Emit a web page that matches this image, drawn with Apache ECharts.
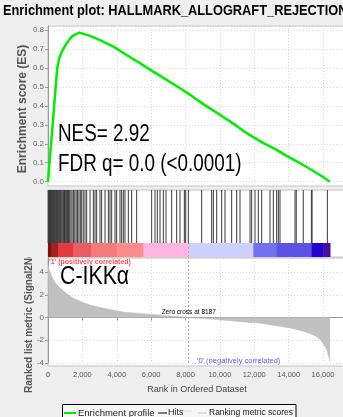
<!DOCTYPE html>
<html><head><meta charset="utf-8">
<script src="https://cdn.jsdelivr.net/npm/echarts@6/dist/echarts.min.js"></script>
<style>html,body{margin:0;padding:0;background:#efefef}#c{width:343px;height:417px}</style>
</head><body><div id="c"></div>
<script>
// ---------------- data ----------------
const titleText = 'Enrichment plot: HALLMARK_ALLOGRAFT_REJECTION';
const nesText = 'NES= 2.92';
const fdrText = 'FDR q= 0.0 (<0.0001)';
const groupText = 'C-IKKα';
const posText = "'1' (positively correlated)";
const negText = "'0' (negatively correlated)";
const zeroCross = 8187;
const legendNames = ['Enrichment profile', 'Hits', 'Ranking metric scores'];

const esRank  = [0, 150, 300, 400, 540, 650, 800, 950, 1090, 1250, 1380, 1600, 1820, 2400, 3025, 3800, 4500, 5350, 6100, 6900, 7680, 8260, 9100, 10000, 10800, 11560, 12400, 13300, 13900, 14470, 15000, 15630, 16000, 16400];
const esValue = [0, 0.17, 0.33, 0.45, 0.6, 0.65, 0.685, 0.71, 0.73, 0.75, 0.765, 0.777, 0.786, 0.77, 0.747, 0.712, 0.672, 0.625, 0.582, 0.537, 0.493, 0.458, 0.405, 0.353, 0.305, 0.256, 0.21, 0.168, 0.135, 0.107, 0.08, 0.046, 0.025, 0];

const hitRanks = [10, 30, 50, 70, 90, 115, 140, 165, 190, 215, 240, 270, 300, 330, 360, 390, 420, 455, 490, 525, 560, 600, 640, 680, 720, 765, 810, 860, 910, 960, 1010, 1070, 1130, 1190, 1260, 1330, 1400, 1480, 1560, 1640, 1720, 1800, 1880, 1960, 2050, 2152, 2249, 2443, 2637, 2734, 2831, 3025, 3122, 3316, 3510, 3607, 3704, 3897, 3994, 4188, 4285, 4382, 4479, 4673, 4867, 5158, 6030, 6224, 6360, 6515, 6709, 6864, 7194, 7485, 7679, 7931, 8008, 8163, 8939, 9521, 9618, 9812, 10102, 10296, 10684, 10975, 11169, 11751, 11848, 12042, 12235, 12429, 12914, 13108, 13302, 13399, 13496, 14369, 14440, 14850, 15320, 15360, 16250];

const metricRank  = [0, 40, 116, 250, 400, 700, 1000, 1450, 2000, 2440, 3000, 3600, 4360, 5000, 5700, 6500, 7300, 8187, 9000, 10000, 11170, 12330, 13300, 14080, 14800, 15300, 15630, 15900, 16110, 16230, 16300, 16360, 16400];
const metricValue = [4.6, 4.3, 4.0, 3.5, 3.1, 2.6, 2.2, 1.72, 1.35, 1.1, 0.9, 0.7, 0.48, 0.4, 0.3, 0.22, 0.12, 0, -0.1, -0.2, -0.37, -0.5, -0.72, -0.92, -1.2, -1.45, -1.69, -2.05, -2.57, -2.86, -3.3, -3.6, -3.9];

const colorBarStart = [0, 200, 600, 1474, 2500, 3994, 5545, 8163, 11945, 13302, 15338, 16017];
const colorBarEnd   = [200, 600, 1474, 2500, 3994, 5545, 8163, 11945, 13302, 15338, 16017, 16405];

const xMax = 17160, xInterval = 2000;
const esMax = 0.821, esInterval = 0.1;
const metricMin = -4, metricMax = 5.24, metricInterval = 2;

// ---------------- style ----------------
const colorBarColors = ['#7a1212', '#a82020', '#e23c3c', '#ea5c66', '#f47a7e', '#ff8c8c', '#ffb4e4', '#d0d0fc', '#7272f0', '#5c52e6', '#2404d2', '#4c0ca4'];
const FONT = '"Liberation Sans", Arial, sans-serif';
const NARROW = 0.82;
const gridLine = { show: true, lineStyle: { color: '#d8d8d8', type: [1, 2], width: 1 } };

function txt(x, y, text, size, extra, elExtra) {
  return Object.assign({ type: 'text', x: x, y: y, z: 100,
    style: Object.assign({ text: text, fontSize: size, fontFamily: FONT, fill: '#000', align: 'left', verticalAlign: 'middle' }, extra || {}) }, elExtra || {});
}
function frame(x, y, w, h) {
  return { type: 'rect', z: -1, shape: { x: x, y: y, width: w, height: h }, style: { fill: '#fff', stroke: '#c4c4c4', lineWidth: 1 } };
}
function seg(x1, x2, y, color, w) {
  return { type: 'line', z: 100, shape: { x1: x1, y1: y, x2: x2, y2: y }, style: { stroke: color, lineWidth: w } };
}

const chart = echarts.init(document.getElementById('c'), null, { renderer: 'canvas' });
const hiddenAxis = { show: false, type: 'value', min: 0, max: xMax };

chart.setOption({
  backgroundColor: '#efefef',
  animation: false,
  grid: [
    { left: 48, right: 0, top: 26, height: 155.7 },
    { left: 48, right: 0, top: 190, height: 53 },
    { left: 48, right: 0, top: 243, height: 14 },
    { left: 48, right: 0, top: 258, height: 104.9 }
  ],
  xAxis: [
    { gridIndex: 0, type: 'value', min: 0, max: xMax, interval: xInterval,
      axisLine: { show: false }, axisTick: { show: false }, axisLabel: { show: false }, splitLine: gridLine },
    Object.assign({ gridIndex: 1 }, hiddenAxis),
    Object.assign({ gridIndex: 2 }, hiddenAxis),
    { gridIndex: 3, type: 'value', min: 0, max: xMax, interval: xInterval, offset: 3,
      axisLine: { show: true, lineStyle: { color: '#999' } },
      axisTick: { show: true, length: 3, lineStyle: { color: '#999' } },
      axisLabel: { show: true, margin: 5, fontSize: 7.5, color: '#555', fontFamily: FONT, showMaxLabel: false,
        formatter: v => v.toLocaleString('en-US') },
      splitLine: gridLine }
  ],
  yAxis: [
    { gridIndex: 0, type: 'value', min: 0, max: esMax, interval: esInterval,
      axisLine: { show: true, lineStyle: { color: '#999' } },
      axisTick: { show: true, length: 3, lineStyle: { color: '#999' } },
      axisLabel: { fontSize: 8, color: '#666', margin: 4, fontFamily: FONT, showMaxLabel: false, formatter: v => v.toFixed(1) },
      splitLine: gridLine },
    { gridIndex: 1, type: 'value', min: 0, max: 1, show: false },
    { gridIndex: 2, type: 'value', min: 0, max: 1, show: false },
    { gridIndex: 3, type: 'value', min: metricMin, max: metricMax, interval: metricInterval,
      axisLine: { show: true, lineStyle: { color: '#999' } },
      axisTick: { show: true, length: 3, lineStyle: { color: '#999' } },
      axisLabel: { fontSize: 8, color: '#666', margin: 4, fontFamily: FONT, showMaxLabel: false },
      splitLine: gridLine }
  ],
  series: [
    { name: legendNames[0], type: 'line', xAxisIndex: 0, yAxisIndex: 0, showSymbol: false, symbol: 'none', clip: false,
      lineStyle: { color: '#00ee00', width: 2.5 }, z: 5,
      data: esRank.map((r, i) => [r, esValue[i]]) },
    { name: legendNames[1], type: 'bar', xAxisIndex: 1, yAxisIndex: 1, barWidth: 1,
      itemStyle: { color: '#3a3a3a' }, data: hitRanks.map(r => [r, 1]) },
    { type: 'custom', xAxisIndex: 2, yAxisIndex: 2,
      data: colorBarStart.map((s, i) => [s, colorBarEnd[i], i]),
      renderItem: function (params, api) {
        const p0 = api.coord([api.value(0), 1]);
        const p1 = api.coord([api.value(1), 0]);
        return { type: 'rect', shape: { x: p0[0], y: p0[1], width: p1[0] - p0[0] + 0.5, height: p1[1] - p0[1] },
          style: { fill: colorBarColors[api.value(2)] } };
      } },
    { type: 'line', xAxisIndex: 2, yAxisIndex: 2, data: [[zeroCross, 0.5]], showSymbol: false, symbol: 'none',
      markLine: { silent: true, symbol: 'none', label: { show: false },
        lineStyle: { color: '#aaa', type: [2, 2], width: 1 }, data: [{ xAxis: zeroCross }] } },
    { name: legendNames[2], type: 'line', xAxisIndex: 3, yAxisIndex: 3, showSymbol: false, symbol: 'none', clip: false,
      lineStyle: { color: '#bdbdbd', width: 0.5 }, areaStyle: { color: '#c0c0c0', opacity: 1 },
      data: metricRank.map((r, i) => [r, metricValue[i]]),
      markLine: { silent: true, symbol: 'none', label: { show: false },
        lineStyle: { color: '#aaa', type: [2, 2], width: 1 }, data: [{ xAxis: zeroCross }] },
      markPoint: { silent: true, symbol: 'circle', symbolSize: 0,
        label: { show: true, position: 'top', distance: 2, fontSize: 6.5, color: '#000', fontFamily: FONT,
          formatter: 'Zero cross at ' + zeroCross },
        data: [{ coord: [zeroCross, 0] }] } }
  ],
  graphic: [
    frame(48, 26, 300, 160),
    frame(48, 190, 300, 67),
    frame(48, 258, 300, 108),
    txt(3, 11.5, titleText, 14, { fontWeight: 'bold' }, { scaleX: 0.915 }),
    txt(23, 109, 'Enrichment score (ES)', 12, { fontWeight: 'bold', fill: '#555', align: 'center' }, { rotation: Math.PI / 2 }),
    txt(29, 393, 'Ranked list metric (Signal2Noise)', 10, { fontWeight: 'bold', fill: '#555', align: 'left' }, { rotation: Math.PI / 2, z: 50 }),
    { type: 'rect', z: 90, shape: { x: 0, y: 186, width: 47, height: 71 }, style: { fill: '#efefef' } },
    txt(197, 390, 'Rank in Ordered Dataset', 9, { fill: '#444', align: 'center' }),
    txt(58, 135, nesText, 23, {}, { scaleX: NARROW }),
    txt(58, 165, fdrText, 23, {}, { scaleX: NARROW }),
    txt(60, 277, groupText, 26, {}, { scaleX: NARROW }),
    txt(49, 262, posText, 7, { fill: '#ff5252', fontWeight: 'bold' }),
    txt(197, 361, negText, 7.5, { fill: '#5b5bff' }),
    { type: 'rect', z: 95, shape: { x: 62.5, y: 404.5, width: 233.5, height: 20 }, style: { fill: '#f7f7f7', stroke: '#000', lineWidth: 1 } },
    seg(64, 76, 413, '#00ee00', 2),
    txt(78, 413, legendNames[0], 9.5, { fill: '#222' }),
    seg(158, 167, 413, '#555', 1.5),
    txt(168, 413, legendNames[1], 9, { fill: '#222' }),
    seg(183, 192, 411, '#e6e6e6', 1.5),
    seg(198, 207, 413, '#d6d6d6', 1.5),
    txt(209, 413, legendNames[2], 8.5, { fill: '#222' })
  ]
});
</script></body></html>
